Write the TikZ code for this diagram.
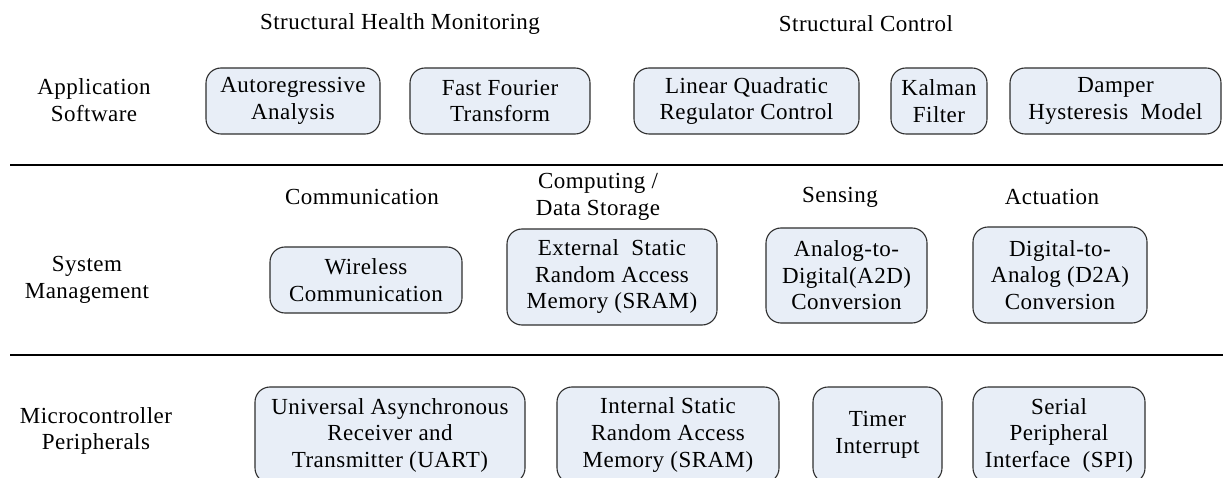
\documentclass[tikz,border=0pt]{standalone}
\usepackage{fontspec}
\setmainfont[LetterSpace=2]{Liberation Serif}
\definecolor{boxfill}{HTML}{E8EEF7}
\definecolor{boxline}{HTML}{2E2E2E}
\begin{document}
\begin{tikzpicture}[x=1pt,y=-1pt,
  every node/.style={font=\fontsize{23}{26.5}\selectfont, align=center, inner sep=0pt},
  unit/.style={draw=boxline, fill=boxfill, rounded corners=15pt, line width=1.1pt},
  layerline/.style={line width=1.3pt, black}]
\useasboundingbox (0,0) rectangle (1223,478);

% layer separators
\coordinate (l1a) at (10,165);  \coordinate (l1b) at (1223,165);
\coordinate (l2a) at (10,355);  \coordinate (l2b) at (1223,355);
\draw[layerline] (l1a) -- (l1b);
\draw[layerline] (l2a) -- (l2b);

% layer names
\node (appl) at (94,100) {Application\\Software};
\node (sysm) at (87,280) {System\\Management};
\node (mcup) at (96,431) {Microcontroller\\Peripherals};

% application software
\node (shm) at (400,24) {Structural Health Monitoring};
\node (sc)  at (866,24) {Structural Control};
\node[unit, minimum width=174, minimum height=66] (ar)  at (293,101)    {Autoregressive\\Analysis};
\node[unit, minimum width=180, minimum height=66] (fft) at (500,101)    {Fast Fourier\\Transform};
\node[unit, minimum width=225, minimum height=66] (lqr) at (746.5,101)  {Linear Quadratic\\Regulator Control};
\node[unit, minimum width=96,  minimum height=66] (kal) at (939,101)    {Kalman\\Filter};
\node[unit, minimum width=211, minimum height=66] (dmp) at (1115.5,101) {Damper\\Hysteresis\ \ Model};

% system management
\node (comm) at (362,197) {Communication};
\node (cds)  at (598,197) {Computing /\\Data Storage};
\node (sens) at (840,197) {Sensing};
\node (act)  at (1052,197) {Actuation};
\node[unit, minimum width=192, minimum height=66] (wl)  at (366,280)    {Wireless\\Communication};
\node[unit, minimum width=210, minimum height=96] (es)  at (612,277)    {External\ \ Static\\Random Access\\Memory (SRAM)};
\node[unit, minimum width=161, minimum height=95] (a2d) at (846.5,275.5){Analog-to-\\Digital(A2D)\\Conversion};
\node[unit, minimum width=174, minimum height=96] (d2a) at (1060,275)   {Digital-to-\\Analog (D2A)\\Conversion};

% microcontroller peripherals
\node[unit, minimum width=270, minimum height=96] (uart) at (390,435)    {Universal Asynchronous\\Receiver and\\Transmitter (UART)};
\node[unit, minimum width=222, minimum height=96] (isr)  at (668,435)    {Internal Static\\Random Access\\Memory (SRAM)};
\node[unit, minimum width=129, minimum height=96] (tmr)  at (877.5,435)  {Timer\\Interrupt};
\node[unit, minimum width=172, minimum height=96] (spi)  at (1059,435)   {Serial\\Peripheral\\Interface\ \ (SPI)};
\end{tikzpicture}
\end{document}
